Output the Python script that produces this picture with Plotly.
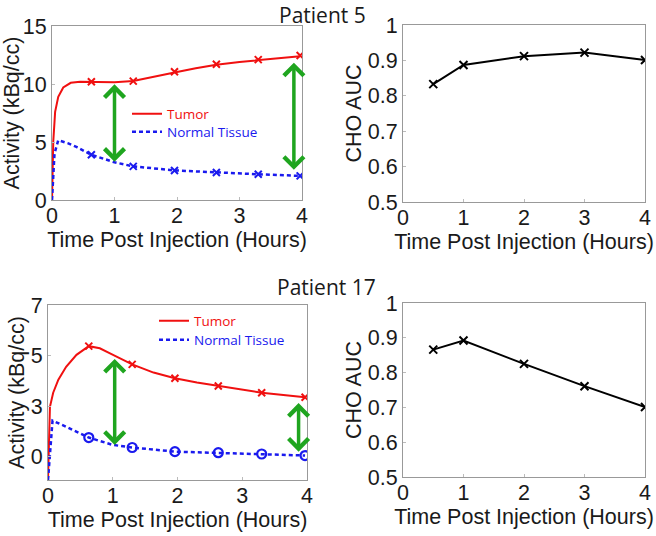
import plotly.graph_objects as go

# ---------------- data ----------------
hours_ticks = [0, 1, 2, 3, 4]
marker_t = [0.63, 1.3, 1.96, 2.63, 3.3, 3.97]

# Patient 5 activity curves (kBq/cc)
tumor5_t = [0, 0.02, 0.05, 0.1, 0.18, 0.3, 0.45, 0.63, 1.0, 1.3, 1.6, 1.96, 2.3, 2.63, 3.0, 3.3, 3.65, 3.97]
tumor5_v = [0, 5.0, 7.6, 8.9, 9.7, 10.1, 10.2, 10.2, 10.15, 10.25, 10.6, 11.0, 11.35, 11.65, 11.9, 12.05, 12.25, 12.4]
tumor5_marks = [10.2, 10.25, 11.05, 11.7, 12.1, 12.45]
normal5_t = [0, 0.04, 0.1, 0.25, 0.4, 0.63, 1.0, 1.3, 1.96, 2.63, 3.3, 3.97]
normal5_v = [0, 4.0, 5.15, 4.9, 4.55, 3.9, 3.25, 2.9, 2.55, 2.37, 2.22, 2.08]
normal5_marks = [3.9, 2.9, 2.55, 2.37, 2.22, 2.08]

# Patient 5 CHO AUC
auc_t = [0.5, 1, 2, 3, 4]
auc5 = [0.833, 0.887, 0.912, 0.922, 0.901]

# Patient 17 activity curves (display scale)
tumor17_t = [0, 0.03, 0.08, 0.16, 0.28, 0.44, 0.63, 0.8, 0.95, 1.3, 1.63, 1.96, 2.3, 2.63, 3.3, 3.97]
tumor17_v = [-1.08, 2.3, 2.95, 3.55, 4.15, 4.7, 5.1, 5.0, 4.78, 4.26, 3.88, 3.62, 3.42, 3.26, 2.95, 2.74]
tumor17_marks = [5.1, 4.26, 3.62, 3.26, 2.95, 2.74]
normal17_t = [0, 0.07, 0.28, 0.63, 1.0, 1.3, 1.96, 2.63, 3.3, 3.97]
normal17_v = [-1.08, 1.66, 1.38, 0.88, 0.54, 0.42, 0.23, 0.18, 0.12, 0.05]
normal17_marks = [0.88, 0.42, 0.23, 0.18, 0.12, 0.05]
act17_tickvals = [0, 7 / 3, 14 / 3, 7]
act17_ticktext = ["0", "3", "5", "7"]

# Patient 17 CHO AUC
auc17 = [0.866, 0.892, 0.825, 0.761, 0.701]

# difference arrows: x, top, bottom
arrows5_x = [1.0, 3.87]
arrows5_top = [10.1, 11.97]
arrows5_bot = [3.3, 2.6]
arrows17_x = [1.03, 3.87]
arrows17_top = [4.58, 2.54]
arrows17_bot = [0.54, 0.23]

# ---------------- style ----------------
RED = "#f01010"
BLUE = "#1a1aee"
GREEN = "#1fa51f"
W, H = 656, 536
AXFONT = dict(family="Liberation Sans, Arial", size=21.5, color="#1a1a1a")
LEGFONT = dict(family="Open Sans", size=13.5)


def px_x(a, b):
    return [a / W, b / W]


def px_y(top, bottom):
    return [1 - bottom / H, 1 - top / H]


fig = go.Figure()

# ---- Patient 5 activity ----
fig.add_trace(go.Scatter(x=tumor5_t, y=tumor5_v, mode="lines", line=dict(color=RED, width=2),
                         name="<span style='color:%s'>Tumor</span>" % RED, legend="legend",
                         xaxis="x", yaxis="y"))
fig.add_trace(go.Scatter(x=normal5_t, y=normal5_v, mode="lines",
                         line=dict(color=BLUE, width=2.5, dash="4px,3px"),
                         name="<span style='color:%s'>Normal Tissue</span>" % BLUE, legend="legend2",
                         xaxis="x", yaxis="y"))
fig.add_trace(go.Scatter(x=marker_t, y=tumor5_marks, mode="markers", showlegend=False,
                         marker=dict(symbol="x-thin", size=7, line=dict(color=RED, width=2)),
                         xaxis="x", yaxis="y"))
fig.add_trace(go.Scatter(x=marker_t, y=normal5_marks, mode="markers", showlegend=False,
                         marker=dict(symbol="x-thin", size=7, line=dict(color=BLUE, width=2)),
                         xaxis="x", yaxis="y"))

# ---- Patient 5 AUC ----
fig.add_trace(go.Scatter(x=auc_t, y=auc5, mode="lines+markers", showlegend=False,
                         line=dict(color="black", width=2),
                         marker=dict(symbol="x-thin", size=8, line=dict(color="black", width=2)),
                         xaxis="x2", yaxis="y2"))

# ---- Patient 17 activity ----
fig.add_trace(go.Scatter(x=tumor17_t, y=tumor17_v, mode="lines", line=dict(color=RED, width=2),
                         name="<span style='color:%s'>Tumor</span>" % RED, legend="legend3",
                         xaxis="x3", yaxis="y3"))
fig.add_trace(go.Scatter(x=normal17_t, y=normal17_v, mode="lines",
                         line=dict(color=BLUE, width=2.5, dash="4px,3px"),
                         name="<span style='color:%s'>Normal Tissue</span>" % BLUE, legend="legend4",
                         xaxis="x3", yaxis="y3"))
fig.add_trace(go.Scatter(x=marker_t, y=tumor17_marks, mode="markers", showlegend=False,
                         marker=dict(symbol="x-thin", size=7, line=dict(color=RED, width=2)),
                         xaxis="x3", yaxis="y3"))
fig.add_trace(go.Scatter(x=marker_t, y=normal17_marks, mode="markers", showlegend=False,
                         marker=dict(symbol="circle-open", size=9, color=BLUE, line=dict(color=BLUE, width=2.2)),
                         xaxis="x3", yaxis="y3"))

# ---- Patient 17 AUC ----
fig.add_trace(go.Scatter(x=auc_t, y=auc17, mode="lines+markers", showlegend=False,
                         line=dict(color="black", width=2),
                         marker=dict(symbol="x-thin", size=8, line=dict(color="black", width=2)),
                         xaxis="x4", yaxis="y4"))

# ---- double-headed arrows ----
anns = []
for xs, tops, bots, xr, yr in [(arrows5_x, arrows5_top, arrows5_bot, "x", "y"),
                               (arrows17_x, arrows17_top, arrows17_bot, "x3", "y3")]:
    for xv, tv, bv in zip(xs, tops, bots):
        anns.append(dict(x=xv, y=bv, ax=xv, ay=tv, xref=xr, yref=yr, axref=xr, ayref=yr,
                         text="", showarrow=True, arrowhead=4, startarrowhead=4,
                         arrowside="end+start", arrowwidth=3.5, arrowsize=1.1,
                         startarrowsize=1.1, arrowcolor=GREEN))

# titles
TFONT = dict(family="Open Sans", size=21, color="#1a1a1a")
anns.append(dict(text="Patient 5", x=322 / W, y=1 - 14.5 / H, xref="paper", yref="paper",
                 xanchor="center", yanchor="middle", showarrow=False, font=TFONT))
anns.append(dict(text="Patient 17", x=326 / W, y=1 - 287 / H, xref="paper", yref="paper",
                 xanchor="center", yanchor="middle", showarrow=False, font=TFONT))


def xax(domain, anchor):
    return dict(domain=domain, anchor=anchor, range=[0, 4], tickvals=hours_ticks,
                automargin=False, ticklabelstandoff=-4,
                showline=True, mirror=True, linecolor="#999", linewidth=1,
                ticks="inside", ticklen=3, tickcolor="#bbb", showgrid=False, zeroline=False,
                tickfont=AXFONT, title=dict(text="Time Post Injection (Hours)", font=AXFONT, standoff=4))


def yax(domain, anchor, rng, title, **kw):
    d = dict(domain=domain, anchor=anchor, range=rng, automargin=False,
             showline=True, mirror=True, linecolor="#999", linewidth=1,
             ticks="inside", ticklen=3, tickcolor="#bbb", showgrid=False, zeroline=False,
             tickfont=AXFONT, title=dict(text=title, font=AXFONT, standoff=0))
    d.update(kw)
    return d


def leg(xpx, ypx):
    return dict(x=xpx / W, y=1 - ypx / H, xanchor="left", yanchor="middle",
                bgcolor="rgba(0,0,0,0)", font=LEGFONT, tracegroupgap=0, itemwidth=30)


fig.update_layout(
    width=W, height=H, margin=dict(l=0, r=0, t=0, b=0, autoexpand=False),
    paper_bgcolor="white", plot_bgcolor="white",
    xaxis=xax(px_x(52, 302), "y"),
    yaxis=yax(px_y(26, 200), "x", [0, 15], "Activity (kBq/cc)", tickvals=[0, 5, 10, 15]),
    xaxis2=xax(px_x(403, 645), "y2"),
    yaxis2=yax(px_y(25, 202), "x2", [0.5, 1], "CHO AUC", dtick=0.1, tick0=0.5),
    xaxis3=xax(px_x(48, 307), "y3"),
    yaxis3=yax(px_y(305, 480), "x3", [-1.08, 7], "Activity (kBq/cc)",
               tickvals=act17_tickvals, ticktext=act17_ticktext),
    xaxis4=xax(px_x(403, 645), "y4"),
    yaxis4=yax(px_y(303, 477), "x4", [0.5, 1], "CHO AUC", dtick=0.1, tick0=0.5),
    legend=leg(127, 114),
    legend2=leg(127, 132),
    legend3=leg(154, 321),
    legend4=leg(154, 340),
    annotations=anns,
    showlegend=True,
)

fig.write_html("out.html", config={"displayModeBar": False},
               post_script="document.body.style.margin='0';document.body.style.overflow='hidden';")
